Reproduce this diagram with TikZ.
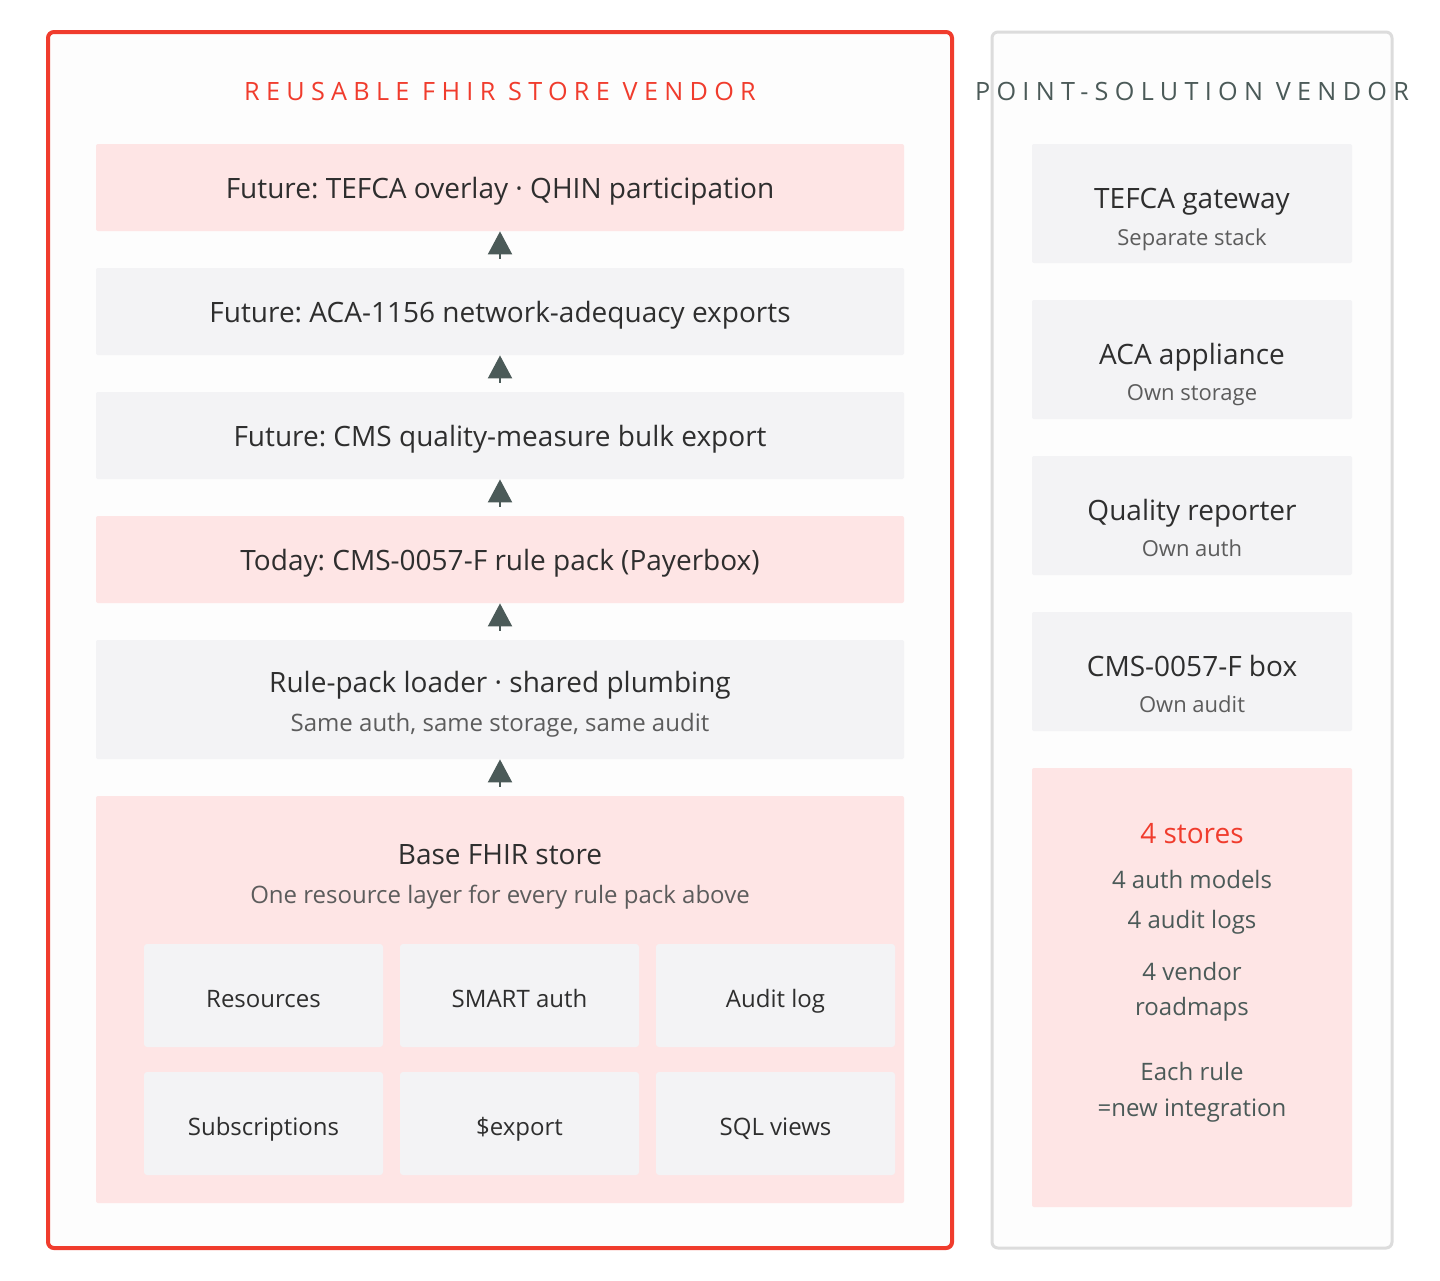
\documentclass[tikz,border=0pt]{standalone}
\usepackage{fontspec}
\setmainfont{Open Sans}
\usepackage{tikz}
\usetikzlibrary{arrows.meta}
\frenchspacing

\definecolor{accent}{RGB}{240,60,45}
\definecolor{pinkbg}{RGB}{254,229,229}
\definecolor{greybg}{RGB}{243,243,245}
\definecolor{frameline}{RGB}{220,220,220}
\definecolor{panelbg}{RGB}{253,253,253}
\definecolor{arrowc}{RGB}{75,90,88}
\definecolor{maintext}{RGB}{46,46,46}
\definecolor{subtext}{RGB}{92,92,92}

\tikzset{
  layer/.style={minimum width=404pt, minimum height=43.5pt, inner sep=0pt, rounded corners=1pt},
  sidebox/.style={fill=greybg, minimum width=160pt, minimum height=59.5pt, inner sep=0pt, rounded corners=1pt},
  cell/.style={fill=greybg, minimum width=119.5pt, minimum height=51.5pt, inner sep=0pt, rounded corners=1.5pt,
    font=\fontsize{12}{14}\selectfont, text=maintext, text height=12pt, text depth=0pt},
  lbl/.style={font=\fontsize{14}{16}\selectfont, text=maintext, inner sep=0pt, anchor=base},
  sub/.style={font=\fontsize{12}{14}\selectfont, text=subtext, inner sep=0pt, anchor=base},
  sidelbl/.style={font=\fontsize{14}{16}\selectfont, text=maintext, inner sep=0pt, anchor=base},
  sidesub/.style={font=\fontsize{11}{13}\selectfont, text=subtext, inner sep=0pt, anchor=base},
  tally line/.style={font=\fontsize{12}{14}\selectfont, text=arrowc, inner sep=0pt, anchor=base},
  headline/.style={font=\fontsize{12.6}{15}\selectfont\addfontfeature{LetterSpace=25}, inner sep=0pt, anchor=base},
  upar/.style={-{Triangle[width=12pt, length=11.5pt]}, line width=1pt, draw=arrowc},
}

\begin{document}
\begin{tikzpicture}[x=0.5pt, y=-0.5pt]
    \useasboundingbox[fill=white] (0,0) rectangle (1440,1280);

    % the two vendor panels
    \draw[accent, line width=2pt, fill=panelbg, rounded corners=3pt] (48,32) rectangle (952,1248);
    \draw[frameline, line width=1.5pt, fill=panelbg, rounded corners=3pt] (992,32) rectangle (1392,1248);
    \node[headline, text=accent] (ttlA) at (500,100) {REUSABLE FHIR STORE VENDOR};
    \node[headline, text=arrowc] (ttlB) at (1192,100) {POINT-SOLUTION VENDOR};

    % left stack
    \node[layer, fill=pinkbg] (tefca) at (500,187.5) {};
    \node[lbl] at (500,198) {Future: TEFCA overlay · QHIN participation};
    \node[layer, fill=greybg] (aca) at (500,311.5) {};
    \node[lbl] at (500,322) {Future: ACA-1156 network-adequacy exports};
    \node[layer, fill=greybg] (cms) at (500,435.5) {};
    \node[lbl] at (500,446) {Future: CMS quality-measure bulk export};
    \node[layer, fill=pinkbg] (today) at (500,559.5) {};
    \node[lbl] at (500,570) {Today: CMS-0057-F rule pack (Payerbox)};
    \node[layer, fill=greybg, minimum height=59.5pt] (loader) at (500,699.5) {};
    \node[lbl] at (500,692) {Rule-pack loader · shared plumbing};
    \node[sub] at (500,731.5) {Same auth, same storage, same audit};
    \node[layer, fill=pinkbg, minimum height=203.5pt] (base) at (500,999.5) {};
    \node[lbl] at (500,864) {Base FHIR store};
    \node[sub] at (500,903.5) {One resource layer for every rule pack above};

    \node[cell] (res) at (263.5,995.5) {Resources};
    \node[cell] (smart) at (519.5,995.5) {SMART auth};
    \node[cell] (audit) at (775.5,995.5) {Audit log};
    \node[cell] (subs) at (263.5,1123.5) {Subscriptions};
    \node[cell] (export) at (519.5,1123.5) {\$export};
    \node[cell] (sql) at (775.5,1123.5) {SQL views};

    \draw[upar, shorten <=4.5pt] (aca.north) -- (tefca.south);
    \draw[upar, shorten <=4.5pt] (cms.north) -- (aca.south);
    \draw[upar, shorten <=4.5pt] (today.north) -- (cms.south);
    \draw[upar, shorten <=4.5pt] (loader.north) -- (today.south);
    \draw[upar, shorten <=4.5pt] (base.north) -- (loader.south);

    % right column
    \node[sidebox] (gw) at (1192,203.5) {};
    \node[sidelbl] at (1192,208) {TEFCA gateway};
    \node[sidesub] at (1192,245) {Separate stack};
    \node[sidebox] (app) at (1192,359.5) {};
    \node[sidelbl] at (1192,364) {ACA appliance};
    \node[sidesub] at (1192,400) {Own storage};
    \node[sidebox] (qrep) at (1192,515.5) {};
    \node[sidelbl] at (1192,520) {Quality reporter};
    \node[sidesub] at (1192,556) {Own auth};
    \node[sidebox] (cbox) at (1192,671.5) {};
    \node[sidelbl] at (1192,676) {CMS-0057-F box};
    \node[sidesub] at (1192,712) {Own audit};

    \node[sidebox, fill=pinkbg, minimum height=219.5pt] (tally) at (1192,987.5) {};
    \node[sidelbl, text=accent] at (1192,843.5) {4 stores};
    \node[tally line] at (1192,888) {4 auth models};
    \node[tally line] at (1192,928) {4 audit logs};
    \node[tally line] at (1192,980) {4 vendor};
    \node[tally line] at (1192,1015.5) {roadmaps};
    \node[tally line] at (1192,1080) {Each rule};
    \node[tally line] at (1192,1116) {=new integration};
\end{tikzpicture}
\end{document}
